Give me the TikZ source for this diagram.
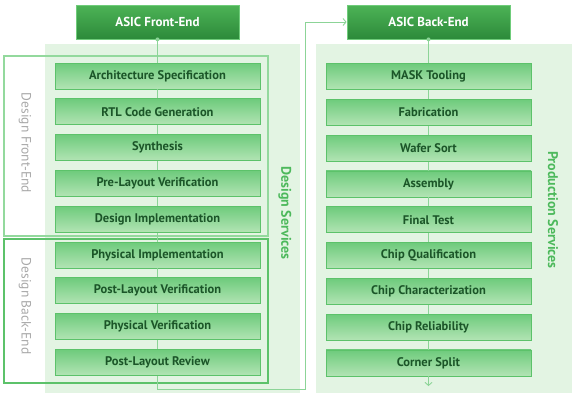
\documentclass[tikz,border=0pt]{standalone}
\usepackage{fontspec}
\setmainfont{PT Sans}
\usetikzlibrary{arrows.meta,positioning}

\definecolor{panelbg}{HTML}{E3F4E3}
\definecolor{boxtop}{HTML}{6ECB7C}
\definecolor{boxbot}{HTML}{B2E4B4}
\definecolor{boxedge}{HTML}{5CC26A}
\definecolor{boxtext}{HTML}{1B5528}
\definecolor{headtop}{HTML}{4DB356}
\definecolor{headbot}{HTML}{2C8A3A}
\definecolor{headedge}{HTML}{6FCC7A}
\definecolor{linkgreen}{HTML}{8CD497}
\definecolor{frontline}{HTML}{93D99D}
\definecolor{backline}{HTML}{5CC26A}
\definecolor{sidegray}{HTML}{A8A8A8}
\definecolor{svcgreen}{HTML}{4DB95C}

\begin{document}
\begin{tikzpicture}[x=1pt,y=-1pt,
  stepbox/.style={draw=boxedge, line width=0.8pt, top color=boxtop, bottom color=boxbot,
    minimum width=205pt, minimum height=26pt, inner sep=0pt, text=boxtext,
    font=\bfseries\fontsize{12.5}{14}\selectfont},
  headbox/.style={draw=headedge, line width=0.8pt, top color=headtop, bottom color=headbot,
    minimum width=163pt, minimum height=34pt, inner sep=0pt, text=white,
    font=\bfseries\fontsize{13}{15}\selectfont},
  link/.style={draw=linkgreen, line width=0.9pt},
  sidelabel/.style={rotate=-90, text=sidegray, font=\fontsize{13.5}{15}\selectfont},
  svclabel/.style={rotate=-90, text=svcgreen, font=\bfseries\fontsize{14}{16}\selectfont}]
  \useasboundingbox (0,0) rectangle (575,400);

  % Panels
  \fill[panelbg] (45,44) rectangle (300,393);
  \fill[panelbg] (316,44) rectangle (572,393);

  % Group frames
  \draw[frontline, line width=1.2pt] (4,56) rectangle (268,236);
  \draw[backline, line width=1.2pt] (4,239) rectangle (268,383);

  % Headers
  \node[headbox] (fe) at (157.5,22) {ASIC Front-End};
  \node[headbox] (be) at (428.5,22) {ASIC Back-End};

  % Design steps
  \foreach \t [count=\i] in {Architecture Specification, RTL Code Generation, Synthesis,
      Pre-Layout Verification, Design Implementation, Physical Implementation,
      Post-Layout Verification, Physical Verification, Post-Layout Review}
    \node[stepbox] (fe\i) at (157.5,40.2+35.8*\i) {\t};

  % Production steps
  \foreach \t [count=\i] in {MASK Tooling, Fabrication, Wafer Sort, Assembly, Final Test,
      Chip Qualification, Chip Characterization, Chip Reliability, Corner Split}
    \node[stepbox] (be\i) at (428.5,40.7+35.8*\i) {\t};

  % Connectors
  \fill[linkgreen] (fe.south) circle (2pt);
  \fill[linkgreen] (be.south) circle (2pt);
  \draw[link] (fe.south) -- (fe1.north);
  \draw[link] (be.south) -- (be1.north);
  \foreach \i [count=\j from 2] in {1,...,8} {
    \draw[link] (fe\i.south) -- (fe\j.north);
    \draw[link] (be\i.south) -- (be\j.north);
  }

  % Hand-over to back-end
  \coordinate (feOut) at (157.5,389);
  \coordinate (feUp) at (305,389);
  \draw[link,-{Straight Barb[length=3pt,width=7pt]}] (fe9.south) -- (feOut) -- (feUp) |- (be.west);
  \coordinate (beOut) at (428.5,386);
  \draw[link,-{Straight Barb[length=3pt,width=7pt]}] (be9.south) -- (beOut);

  % Labels
  \node[sidelabel] (dfe) at (25,143) {Design Front-End};
  \node[sidelabel] (dbe) at (25,306) {Design Back-End};
  \node[svclabel] (ds) at (285,213) {Design Services};
  \node[svclabel] (ps) at (553,210) {Production Services};
\end{tikzpicture}
\end{document}
